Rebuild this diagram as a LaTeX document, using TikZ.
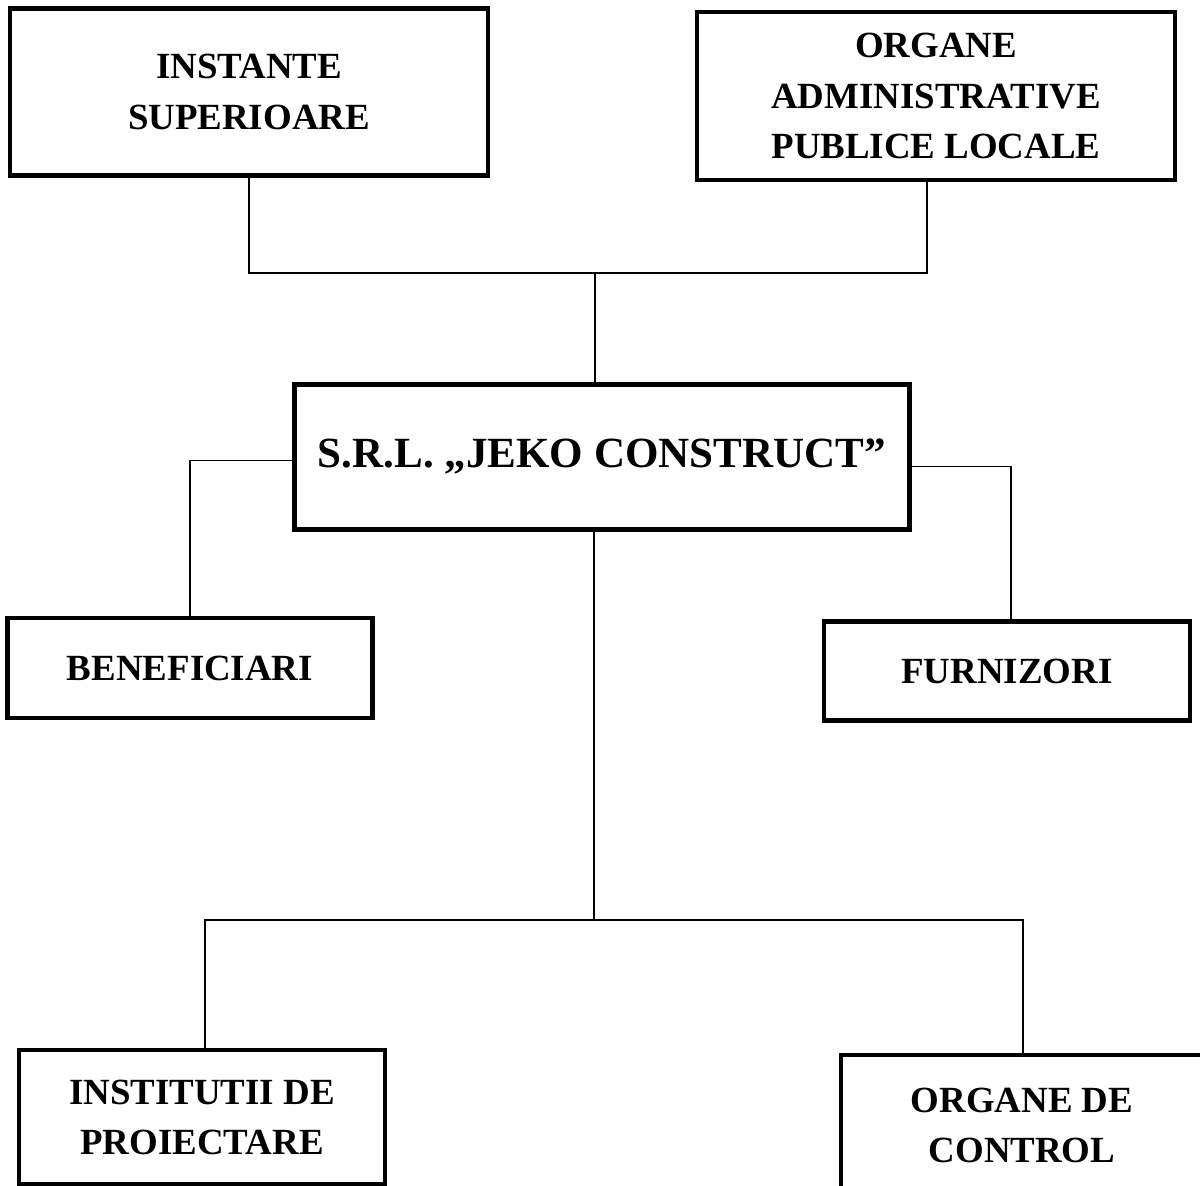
\documentclass[tikz,border=0pt]{standalone}
\usepackage{fontspec}
\setmainfont{Liberation Serif}
\usetikzlibrary{calc}
\tikzset{
  unit/.style={draw, line width=2.6pt, align=center, inner sep=0pt,
      font=\bfseries\fontsize{21}{28.5}\selectfont},
  link/.style={line width=1.1pt},
}

\begin{document}
\begin{tikzpicture}[x=0.02cm, y=-0.02cm]
  \useasboundingbox (0,0) rectangle (1200,1186);
  \clip (0,0) rectangle (1200,1186);
  % upper level
  \node[unit, minimum width=9.56cm, minimum height=3.34cm] (inst) at (249,92) {INSTANTE\\SUPERIOARE};
  \node[unit, minimum width=9.56cm, minimum height=3.36cm] (org) at (936,96) {ORGANE\\ADMINISTRATIVE\\PUBLICE LOCALE};
  \node[unit, minimum width=12.3cm, minimum height=2.9cm, font=\bfseries\fontsize{24.5}{30}\selectfont] (srl) at (602,457) {S.R.L. „JEKO CONSTRUCT”};
  \node[unit, minimum width=7.3cm, minimum height=2cm] (benef) at (190,668) {BENEFICIARI};
  \node[unit, minimum width=7.32cm, minimum height=1.98cm] (furn) at (1007,671) {FURNIZORI};
  % lower level
  \node[unit, minimum width=7.32cm, minimum height=2.68cm] (instit) at (202,1117) {INSTITUTII DE\\PROIECTARE};
  \node[unit, minimum width=7.24cm, minimum height=2.8cm] (ctrl) at (1022,1125) {ORGANE DE\\CONTROL};
  \coordinate (jtop) at (595,273);
  \coordinate (jbot) at (594,920);
  \draw[link] (inst.south) |- (jtop) -| ([xshift=-0.18cm]org.south);
  \draw[link] (jtop) -- (jtop |- srl.north);
  \draw[link] ([yshift=-0.07cm]srl.west) -| (benef.north);
  \draw[link] ([yshift=-0.19cm]srl.east) -| ([xshift=0.08cm]furn.north);
  \draw[link] (srl.south -| jbot) -- (jbot);
  \draw[link] ([xshift=0.06cm]instit.north) |- (jbot) -| ([xshift=0.02cm]ctrl.north);
\end{tikzpicture}
\end{document}
